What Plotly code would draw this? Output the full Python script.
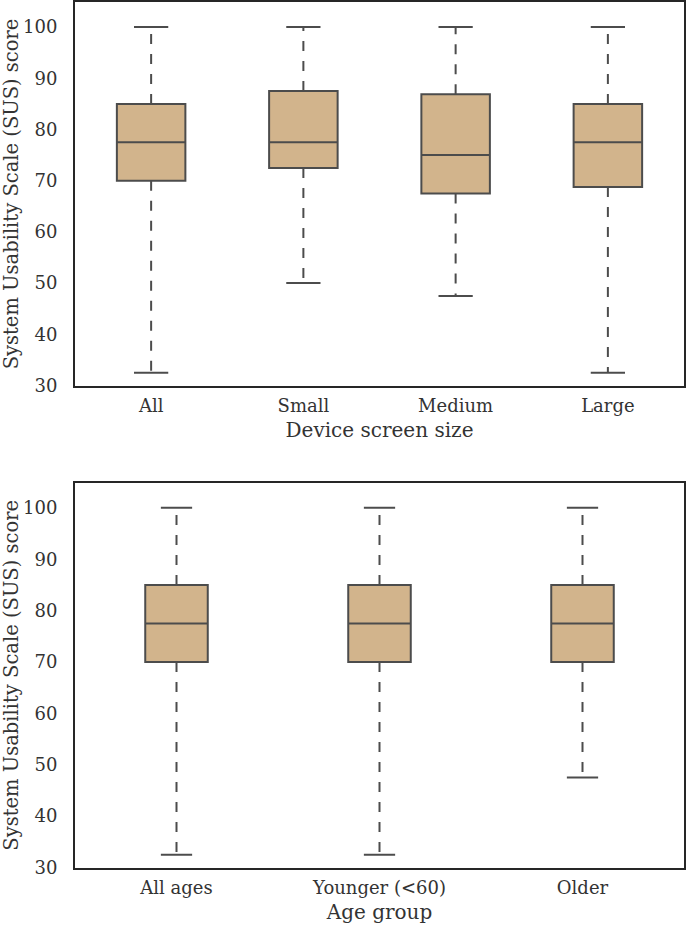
import plotly.graph_objects as go
from plotly.subplots import make_subplots

# Top panel: device screen size
size_cats = ["All", "Small", "Medium", "Large"]
size_lower = [32.5, 50.0, 47.5, 32.5]
size_q1 = [70.0, 72.5, 67.5, 68.75]
size_median = [77.5, 77.5, 75.0, 77.5]
size_q3 = [85.0, 87.5, 86.9, 85.0]
size_upper = [100.0, 100.0, 100.0, 100.0]

# Bottom panel: age group
age_cats = ["All ages", "Younger (<60)", "Older"]
age_lower = [32.5, 32.5, 47.5]
age_q1 = [70.0, 70.0, 70.0]
age_median = [77.5, 77.5, 77.5]
age_q3 = [85.0, 85.0, 85.0]
age_upper = [100.0, 100.0, 100.0]

y_ticks = [30, 40, 50, 60, 70, 80, 90, 100]

FILL = "#D2B48C"
LINE = "#4c4c4c"
TEXT = "#333333"
FONT = "DejaVu Serif"

fig = make_subplots(rows=2, cols=1, vertical_spacing=0.1116)


def add_panel(row, cats, lower, q1, med, q3, upper, width):
    xs = list(range(len(cats)))
    # whiskers (dashed)
    wx, wy = [], []
    for i in xs:
        wx += [i, i, None, i, i, None]
        wy += [q1[i], lower[i], None, q3[i], upper[i], None]
    fig.add_trace(go.Scatter(x=wx, y=wy, mode="lines",
                             line=dict(color=LINE, width=2, dash="10px,10px"),
                             hoverinfo="skip", showlegend=False), row=row, col=1)
    # caps
    cx, cy = [], []
    h = width / 4
    for i in xs:
        cx += [i - h, i + h, None, i - h, i + h, None]
        cy += [lower[i], lower[i], None, upper[i], upper[i], None]
    fig.add_trace(go.Scatter(x=cx, y=cy, mode="lines",
                             line=dict(color=LINE, width=2),
                             hoverinfo="skip", showlegend=False), row=row, col=1)
    # boxes
    fig.add_trace(go.Box(x=xs, q1=q1, median=med, q3=q3,
                         lowerfence=q1, upperfence=q3,
                         width=width, whiskerwidth=0,
                         fillcolor=FILL, line=dict(color=LINE, width=2),
                         boxpoints=False, showlegend=False), row=row, col=1)
    fig.update_xaxes(row=row, col=1, range=[-0.5, len(cats) - 0.5],
                     tickmode="array", tickvals=xs, ticktext=cats)


add_panel(1, size_cats, size_lower, size_q1, size_median, size_q3, size_upper, 0.45)
add_panel(2, age_cats, age_lower, age_q1, age_median, age_q3, age_upper, 0.308)

axis_common = dict(showline=True, mirror=True, linecolor="#262626", linewidth=2,
                   showgrid=False, zeroline=False, ticks="",
                   tickfont=dict(family=FONT, size=18, color=TEXT))

fig.update_xaxes(**axis_common, ticklabelstandoff=2)
fig.update_yaxes(**axis_common, range=[29.9, 104.9], tickmode="array",
                 tickvals=y_ticks, ticklabelstandoff=12)

fig.update_xaxes(title=dict(text="Device screen size", standoff=8,
                            font=dict(family=FONT, size=20, color=TEXT)), row=1, col=1)
fig.update_xaxes(title=dict(text="Age group", standoff=8,
                            font=dict(family=FONT, size=20, color=TEXT)), row=2, col=1)
for r in (1, 2):
    fig.update_yaxes(title=dict(text="System Usability Scale (SUS) score", standoff=9,
                                font=dict(family=FONT, size=19.5, color=TEXT)), row=r, col=1)

fig.update_layout(width=686, height=926,
                  margin=dict(l=75, r=2, t=2, b=58, autoexpand=False),
                  paper_bgcolor="white", plot_bgcolor="white",
                  showlegend=False)
fig.update_layout(yaxis=dict(domain=[0.5566, 1.0]), yaxis2=dict(domain=[0.0, 0.445]))

fig.write_html("out.html", config={"displayModeBar": False},
               post_script="document.body.style.margin='0';document.body.style.overflow='hidden';")
